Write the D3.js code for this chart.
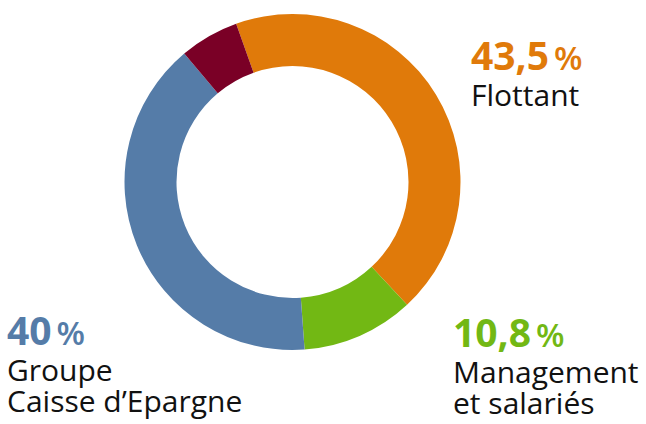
<!DOCTYPE html>
<html><head><meta charset="utf-8">
<script src="https://cdn.jsdelivr.net/npm/d3@7"></script>
<style>html,body{margin:0;padding:0;background:#fff;}svg{display:block;}</style>
</head><body>
<script>
const categories = ["Flottant", "Management et salariés", "Groupe Caisse d’Epargne", "Autres"];
const values = [43.5, 10.8, 40, 5.7];
const valueLabels = ["43,5", "10,8", "40", ""];
const labelLines = [["Flottant"], ["Management", "et salariés"], ["Groupe", "Caisse d’Epargne"], []];
const colors = ["#E07A0A", "#72B814", "#557CA8", "#7A0026"];

const W = 646, H = 424;
const cx = 292.5, cy = 182, outerR = 168, innerR = 116;
const startDeg = -19.6;

const svg = d3.select("body").append("svg").attr("width", W).attr("height", H);

const pie = d3.pie().sort(null).value(d => d)
  .startAngle(startDeg * Math.PI / 180)
  .endAngle((startDeg + 360) * Math.PI / 180);
const arc = d3.arc().innerRadius(innerR).outerRadius(outerR);

const color = d3.scaleOrdinal().domain(categories).range(colors);

svg.append("g").attr("transform", `translate(${cx},${cy})`)
  .selectAll("path").data(pie(values)).join("path")
  .attr("d", arc)
  .attr("fill", (d, i) => color(categories[i]));

const labelPos = [
  {x: 471, y: 70},
  {x: 453, y: 347},
  {x: 7, y: 345}
];
const font = "'Open Sans', sans-serif";
labelPos.forEach((p, i) => {
  const g = svg.append("g");
  const t = g.append("text").attr("x", p.x).attr("y", p.y)
    .attr("font-family", font).attr("fill", colors[i]);
  t.append("tspan").attr("font-size", 39).attr("font-weight", 700).text(valueLabels[i]);
  t.append("tspan").attr("dx", 5).attr("font-size", 33).attr("font-weight", 600).text("%");
  labelLines[i].forEach((ln, j) => {
    g.append("text").attr("x", p.x).attr("y", p.y + 36 + j * 31)
      .attr("font-family", font).attr("font-size", 30).attr("fill", "#111")
      .text(ln);
  });
});
</script>
</body></html>
